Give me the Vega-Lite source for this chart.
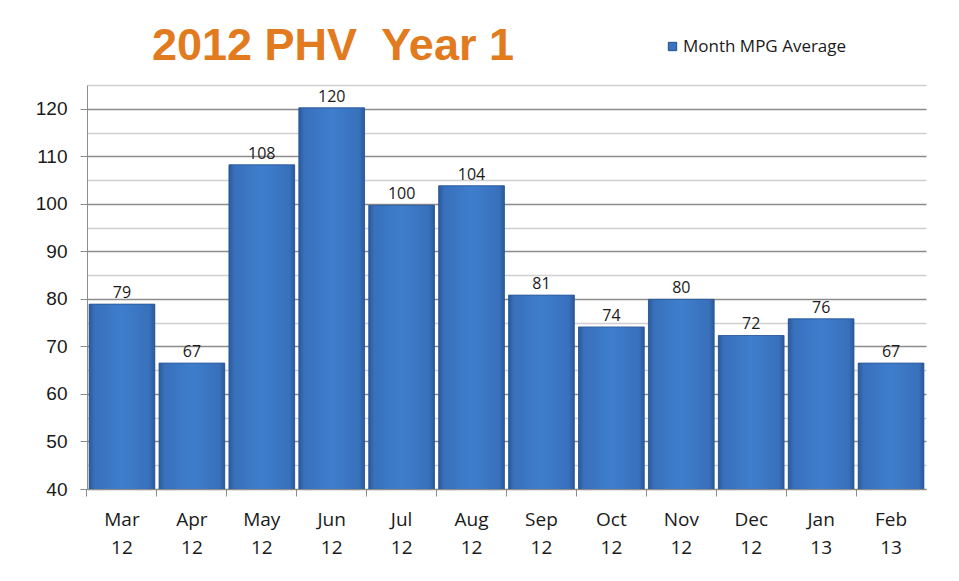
{
  "$schema": "https://vega.github.io/schema/vega-lite/v6.json",
  "autosize": {"type": "none"},
  "padding": {"left": 87, "top": 85, "right": 33, "bottom": 92},
  "width": 839,
  "height": 404,
  "background": "white",
  "title": {
    "text": "2012 PHV\u00a0 Year 1",
    "anchor": "start",
    "frame": "group",
    "dx": 65,
    "offset": -31,
    "font": "Liberation Sans",
    "fontSize": 45,
    "fontWeight": "bold",
    "color": "#e27a1e"
  },
  "data": {
    "values": [
      {"month": "Mar 12", "mpg": 78.9, "series": "Month MPG Average"},
      {"month": "Apr 12", "mpg": 66.5, "series": "Month MPG Average"},
      {"month": "May 12", "mpg": 108.2, "series": "Month MPG Average"},
      {"month": "Jun 12", "mpg": 120.2, "series": "Month MPG Average"},
      {"month": "Jul 12", "mpg": 99.7, "series": "Month MPG Average"},
      {"month": "Aug 12", "mpg": 103.8, "series": "Month MPG Average"},
      {"month": "Sep 12", "mpg": 80.8, "series": "Month MPG Average"},
      {"month": "Oct 12", "mpg": 74.1, "series": "Month MPG Average"},
      {"month": "Nov 12", "mpg": 79.9, "series": "Month MPG Average"},
      {"month": "Dec 12", "mpg": 72.3, "series": "Month MPG Average"},
      {"month": "Jan 13", "mpg": 75.8, "series": "Month MPG Average"},
      {"month": "Feb 13", "mpg": 66.5, "series": "Month MPG Average"}
    ]
  },
  "encoding": {
    "x": {
      "field": "month",
      "type": "nominal",
      "sort": null,
      "title": null,
      "scale": {"paddingInner": 0.06, "paddingOuter": 0.03},
      "axis": {
        "labelAngle": 0,
        "labelExpr": "split(datum.label, ' ')",
        "labelFont": "Open Sans",
        "labelFontSize": 19,
        "labelColor": "#1a1a1a",
        "labelLineHeight": 28,
        "labelPadding": 14,
        "labelBaseline": "top",
        "bandPosition": -0.032,
        "tickSize": 7,
        "tickColor": "#8c8c8c",
        "domainColor": "#8c8c8c",
        "grid": false
      }
    },
    "y": {
      "field": "mpg",
      "type": "quantitative",
      "title": null,
      "scale": {"domain": [40, 125], "nice": false, "zero": false},
      "axis": {
        "values": [40, 45, 50, 55, 60, 65, 70, 75, 80, 85, 90, 95, 100, 105, 110, 115, 120, 125],
        "labelExpr": "datum.value % 10 === 0 ? datum.label : ''",
        "labelFont": "Liberation Sans",
        "labelFontSize": 19,
        "labelColor": "#1a1a1a",
        "labelPadding": 13,
        "tickSize": 7,
        "tickColor": "#8c8c8c",
        "tickOpacity": {"condition": {"test": "datum.value % 10 === 0", "value": 1}, "value": 0},
        "domainColor": "#8c8c8c",
        "grid": true,
        "gridColor": {"condition": {"test": "datum.value % 10 === 0", "value": "#8c8c8c"}, "value": "#cfcfcf"},
        "gridWidth": 1.3
      }
    }
  },
  "layer": [
    {
      "mark": {"type": "bar", "clip": true},
      "encoding": {
        "color": {
          "field": "series",
          "type": "nominal",
          "scale": {"range": ["#3a72be"]},
          "legend": {
            "title": null,
            "orient": "none",
            "legendX": 577,
            "legendY": -47,
            "symbolType": "square",
            "symbolSize": 70,
            "symbolStrokeColor": "#1f4f8f",
            "symbolStrokeWidth": 1,
            "labelFont": "Open Sans",
            "labelFontSize": 17,
            "labelColor": "#1a1a1a",
            "labelOffset": 2,
            "labelLimit": 400,
            "padding": 0
          }
        }
      }
    },
    {
      "mark": {
        "type": "bar",
        "clip": true,
        "stroke": "#2b5796",
        "strokeWidth": 0.8,
        "fill": {
          "gradient": "linear",
          "x1": 0, "y1": 0, "x2": 1, "y2": 0,
          "stops": [
            {"offset": 0, "color": "#2a5999"},
            {"offset": 0.08, "color": "#3870bb"},
            {"offset": 0.5, "color": "#3f7ecd"},
            {"offset": 0.92, "color": "#3870bb"},
            {"offset": 1, "color": "#2a5999"}
          ]
        }
      }
    },
    {
      "mark": {
        "type": "text",
        "baseline": "bottom",
        "dy": -3,
        "font": "Open Sans",
        "fontSize": 16,
        "color": "#1a1a1a"
      },
      "encoding": {
        "text": {"field": "mpg", "type": "quantitative", "format": ".0f"}
      }
    }
  ],
  "config": {
    "view": {"stroke": null}
  }
}
